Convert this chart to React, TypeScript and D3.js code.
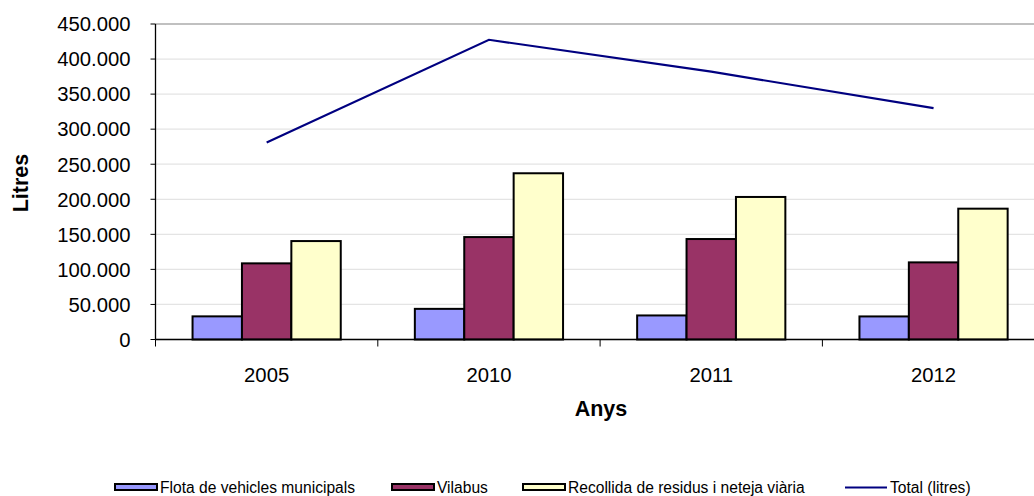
import React from "react";
import * as d3 from "d3";

const categories = ["2005", "2010", "2011", "2012"];
const flota = [33000, 43700, 34300, 32900];
const vilabus = [108600, 146100, 143300, 110000];
const recollida = [140400, 237100, 203300, 186600];
const total = [281000, 427500, 382000, 330000];
const yTicks = [0, 50000, 100000, 150000, 200000, 250000, 300000, 350000, 400000, 450000];
const seriesNames = ["Flota de vehicles municipals", "Vilabus", "Recollida de residus i neteja viària", "Total (litres)"];
const colors = ["#9999FF", "#993366", "#FFFFCC", "#000080"];

const W = 1034;
const H = 496;
const left = 155.5;
const top = 24;
const bottom = 339.5;
const band = 222.3;

export default function App() {
  const x = d3.scaleBand<string>().domain(categories).range([left, left + band * categories.length]).paddingInner(0).paddingOuter(0);
  const y = d3.scaleLinear().domain([0, 450000]).range([bottom, top]);
  const bw = x.bandwidth() / (3 + 1.5);
  const gap = (x.bandwidth() - 3 * bw) / 2;
  const bars = [flota, vilabus, recollida];
  const fmt = (v: number) => (v === 0 ? "0" : d3.format(",")(v).replace(/,/g, "."));
  const line = d3.line<number>().x((_, i) => (x(categories[i]) as number) + x.bandwidth() / 2).y((d) => y(d));
  const font = "'Liberation Sans', Arial, sans-serif";
  const legend = [
    { sx: 115, tx: 160 },
    { sx: 392, tx: 437 },
    { sx: 523, tx: 568 },
    { sx: 845, tx: 890 },
  ];
  return (
    <svg width={W} height={H} style={{ position: "absolute", left: 0, top: 0, background: "#fff" }} fontFamily={font}>
      <rect x={0} y={0} width={W} height={H} fill="#fff" />
      {yTicks.map((t) => (
        <line key={t} x1={left} x2={W + 20} y1={y(t)} y2={y(t)} stroke={t === 450000 ? "#c0c0c0" : "#e4e4e4"} strokeWidth={t === 450000 ? 2 : 1.3} />
      ))}
      {bars.map((s, si) =>
        s.map((v, i) => (
          <rect
            key={si + "-" + i}
            x={(x(categories[i]) as number) + gap + si * bw}
            y={y(v)}
            width={bw}
            height={bottom - y(v)}
            fill={colors[si]}
            stroke="#000"
            strokeWidth={2}
          />
        ))
      )}
      <path d={line(total) || ""} fill="none" stroke={colors[3]} strokeWidth={2.2} />
      <line x1={left} x2={left} y1={top} y2={bottom} stroke="#000" strokeWidth={1.3} />
      <line x1={left} x2={W + 20} y1={bottom} y2={bottom} stroke="#000" strokeWidth={1.3} />
      {yTicks.map((t) => (
        <g key={"t" + t}>
          <line x1={left - 5} x2={left} y1={y(t)} y2={y(t)} stroke="#000" strokeWidth={1} />
          <text x={left - 25} y={y(t)} dy="0.36em" textAnchor="end" fontSize={20.3} fill="#000">
            {fmt(t)}
          </text>
        </g>
      ))}
      {categories.concat(["end"]).map((c, i) => (
        <line key={"c" + i} x1={left + i * band} x2={left + i * band} y1={bottom} y2={bottom + 7} stroke="#000" strokeWidth={1} />
      ))}
      {categories.map((c) => (
        <text key={"l" + c} x={(x(c) as number) + x.bandwidth() / 2} y={375} dy="0.36em" textAnchor="middle" fontSize={20.3} fill="#000">
          {c}
        </text>
      ))}
      <text x={601} y={408} dy="0.36em" textAnchor="middle" fontSize={21.5} fontWeight="bold" fill="#000">Anys</text>
      <text transform="translate(20,183) rotate(-90)" dy="0.36em" textAnchor="middle" fontSize={21.5} fontWeight="bold" fill="#000">Litres</text>
      {legend.map((l, i) => (
        <g key={"lg" + i}>
          {i < 3 ? (
            <rect x={l.sx} y={484} width={42} height={6} fill={colors[i]} stroke="#000" strokeWidth={2} />
          ) : (
            <line x1={l.sx} x2={l.sx + 42} y1={487.5} y2={487.5} stroke={colors[3]} strokeWidth={2} />
          )}
          <text x={l.tx} y={487.5} dy="0.36em" fontSize={15.6} fill="#000">
            {seriesNames[i]}
          </text>
        </g>
      ))}
    </svg>
  );
}
